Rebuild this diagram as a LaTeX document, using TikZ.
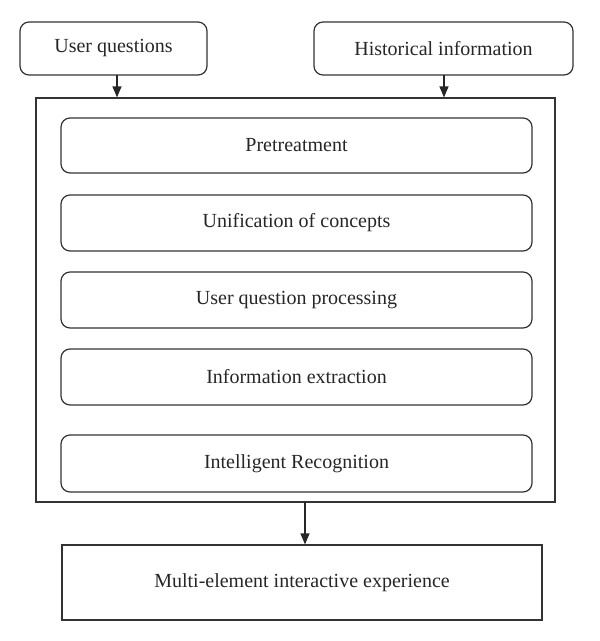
\documentclass[tikz,border=0pt]{standalone}
\usepackage{fontspec}
\setmainfont{Liberation Serif}
\usetikzlibrary{arrows.meta}
\begin{document}
\begin{tikzpicture}[x=1pt,y=-1pt,
  every node/.style={font=\fontsize{20}{24}\selectfont, text=black!85},
  rbox/.style={draw=black!80, line width=1.2pt, rounded corners=9pt, inner sep=0pt},
  sbox/.style={draw=black!80, line width=1.2pt, inner sep=0pt},
  arr/.style={draw=black!85, line width=1.2pt, -{Triangle[width=9pt,length=11pt]}}]
\useasboundingbox (0,0) rectangle (600,641);
\node[rbox, minimum width=187pt, minimum height=53pt] (uq) at (113.5,48.5) {User questions};
\node[rbox, minimum width=259pt, minimum height=53pt] (hi) at (443.5,48.5) {Historical information};
\node[sbox, minimum width=519pt, minimum height=404pt] (big) at (295.5,300) {};
\node[rbox, minimum width=471pt, minimum height=55pt] (p1) at (296.5,145.5) {Pretreatment};
\node[rbox, minimum width=471pt, minimum height=56pt] (p2) at (296.5,223) {Unification of concepts};
\node[rbox, minimum width=471pt, minimum height=56pt] (p3) at (296.5,300) {User question processing};
\node[rbox, minimum width=471pt, minimum height=56pt] (p4) at (296.5,377) {Information extraction};
\node[rbox, minimum width=471pt, minimum height=57pt] (p5) at (296.5,463.5) {Intelligent Recognition};
\node[sbox, minimum width=480pt, minimum height=75pt] (bot) at (302,582.5) {Multi-element interactive experience};
\coordinate (a1) at (117,75);
\coordinate (a2) at (444,75);
\coordinate (a3) at (305,502);
\draw[arr] (a1) -- (a1 |- big.north);
\draw[arr] (a2) -- (a2 |- big.north);
\draw[arr] (a3) -- (a3 |- bot.north);
\end{tikzpicture}
\end{document}
